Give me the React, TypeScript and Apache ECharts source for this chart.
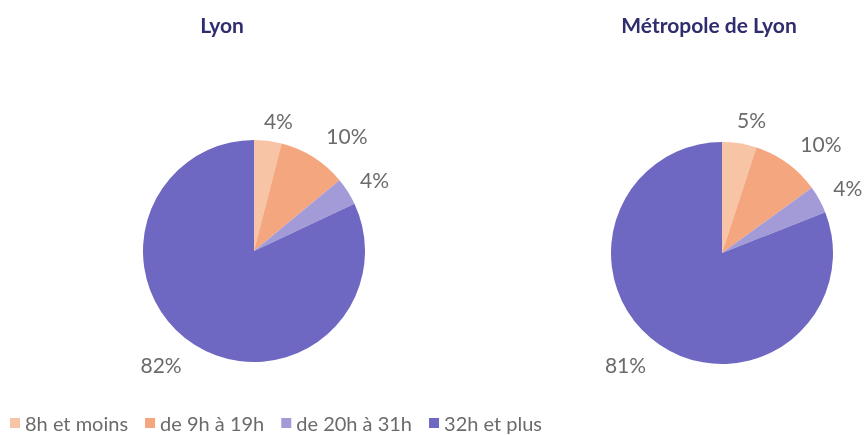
import React, { useEffect, useRef } from "react";
import * as echarts from "echarts";

const categories = ["8h et moins", "de 9h à 19h", "de 20h à 31h", "32h et plus"];
const lyonValues = [4, 10, 4, 82];
const metropoleValues = [5, 10, 4, 81];
const titles = ["Lyon", "Métropole de Lyon"];
const colors = ["#f8c4a6", "#f4a67f", "#a29bd8", "#6f68c2"];

// small per-slice nudges for the outside percentage labels [dx, dy]
const labelNudges: [number, number][][] = [
  [[-7, 3], [0, -2], [-8, 1], [0, 0]],
  [[-6, 0], [-1, 0], [-7, 0], [0, 0]],
];

const FONT = "Lato, 'Noto Sans', sans-serif";

function pieSeries(values: number[], center: [number, number]) {
  return {
    type: "pie",
    center,
    radius: 111,
    startAngle: 90,
    clockwise: true,
    avoidLabelOverlap: false,
    data: categories.map((name, i) => ({ name, value: values[i] })),
    label: {
      show: true,
      position: "outside",
      formatter: "{c}%",
      color: "#6b6b6b",
      fontFamily: FONT,
      fontSize: 21,
      distanceToLabelLine: 0,
    },
    labelLine: { show: false, length: 24, length2: 0 },
    labelLayout: (p: any) => {
      const n = labelNudges[p.seriesIndex]?.[p.dataIndex] || [0, 0];
      return { dx: n[0], dy: n[1] };
    },
    itemStyle: { borderWidth: 0 },
    emphasis: { disabled: true },
  };
}

export default function App() {
  const ref = useRef<HTMLDivElement>(null);

  useEffect(() => {
    if (!ref.current) return;
    const chart = echarts.init(ref.current, undefined, { renderer: "svg" });
    const titleStyle = { fontFamily: FONT, fontWeight: "bold", fontSize: 21, color: "#302d6e" };
    chart.setOption({
      animation: false,
      color: colors,
      title: [
        { text: titles[0], left: 217, top: 9, textAlign: "center", textStyle: titleStyle },
        { text: titles[1], left: 704, top: 9, textAlign: "center", textStyle: titleStyle },
      ],
      legend: {
        data: categories,
        left: 10,
        top: 413,
        padding: 0,
        icon: "rect",
        itemWidth: 10,
        itemHeight: 10,
        itemGap: 17,
        textStyle: { fontFamily: FONT, fontSize: 20, color: "#6b6b6b" },
        selectedMode: false,
      },
      series: [pieSeries(lyonValues, [254, 251]), pieSeries(metropoleValues, [722, 253])],
    });
    return () => chart.dispose();
  }, []);

  return (
    <div
      ref={ref}
      style={{ position: "fixed", left: 0, top: 0, width: 864, height: 435 }}
    />
  );
}
